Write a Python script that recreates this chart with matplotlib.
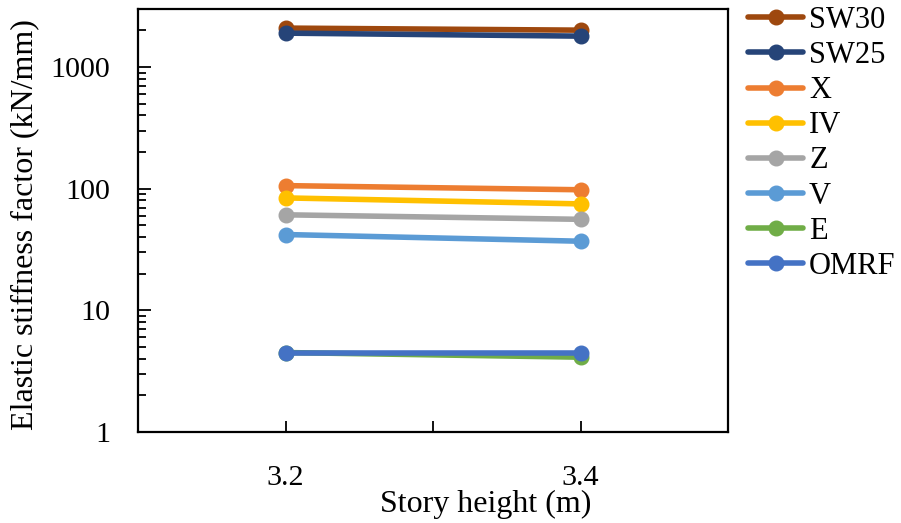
import matplotlib
matplotlib.use("Agg")
import matplotlib.pyplot as plt
from matplotlib.ticker import LogLocator, NullFormatter, FixedLocator, FixedFormatter

plt.rcParams['font.family'] = ['Liberation Serif', 'DejaVu Serif']

x_vals = [3.2, 3.4]
series_names = ["SW30", "SW25", "X", "IV", "Z", "V", "E", "OMRF"]
sw30 = [2090, 2010]
sw25 = [1900, 1795]
x_sys = [106, 98]
iv = [84, 75]
z_sys = [61, 56]
v_sys = [42, 37]
e_sys = [4.5, 4.12]
omrf = [4.45, 4.45]
series_values = [sw30, sw25, x_sys, iv, z_sys, v_sys, e_sys, omrf]
colors = ["#9E480E", "#264478", "#ED7D31", "#FFC000", "#A5A5A5", "#5B9BD5", "#70AD47", "#4472C4"]
xtick_vals = [3.2, 3.3, 3.4]
xtick_labels = ["3.2", "", "3.4"]
ytick_vals = [1, 10, 100, 1000]
ytick_labels = ["1", "10", "100", "1000"]

fig = plt.figure(figsize=(9.01, 5.23), dpi=100)
W, H = 901, 523
ax = fig.add_axes([138 / W, 1 - 432 / H, (728 - 138) / W, (432 - 9) / H])

FS_TICK = 21.6
FS_LAB = 23.0
FS_LEG = 22.0
for name, vals, c in zip(series_names, series_values, colors):
    ax.plot(x_vals, vals, color=c, lw=4.0, marker='o', markersize=10.5,
            label=name, solid_capstyle='round')

ax.set_yscale('log')
ax.set_ylim(1, 3000)
ax.set_xlim(3.1, 3.5)
ax.yaxis.set_major_locator(FixedLocator(ytick_vals))
ax.yaxis.set_major_formatter(FixedFormatter(ytick_labels))
ax.yaxis.set_minor_locator(LogLocator(base=10, subs=[2, 3, 4, 5, 6, 7, 8, 9], numticks=20))
ax.yaxis.set_minor_formatter(NullFormatter())
ax.xaxis.set_major_locator(FixedLocator(xtick_vals))
ax.xaxis.set_major_formatter(FixedFormatter(xtick_labels))

ax.tick_params(axis='y', which='major', direction='in', length=9, width=1.3, labelsize=FS_TICK, pad=20)
ax.tick_params(axis='y', which='minor', direction='in', length=6, width=1.3)
ax.tick_params(axis='x', which='major', direction='in', length=8, width=1.3, labelsize=FS_TICK, pad=24)
for s in ax.spines.values():
    s.set_linewidth(1.6)

ax.set_ylabel("Elastic stiffness factor (kN/mm)", fontsize=FS_LAB)
ax.yaxis.set_label_coords(-0.168, 0.49)
ax.set_xlabel("Story height (m)", fontsize=FS_LAB)
ax.xaxis.set_label_coords(0.59, -0.138)

leg = fig.legend(loc='upper left', bbox_to_anchor=(748 / W, 1 - 6 / H), frameon=False,
                 fontsize=FS_LEG, handlelength=1.8, handletextpad=0.2, labelspacing=0.2,
                 borderaxespad=0, borderpad=0)

fig.savefig("out.png", dpi=100)
